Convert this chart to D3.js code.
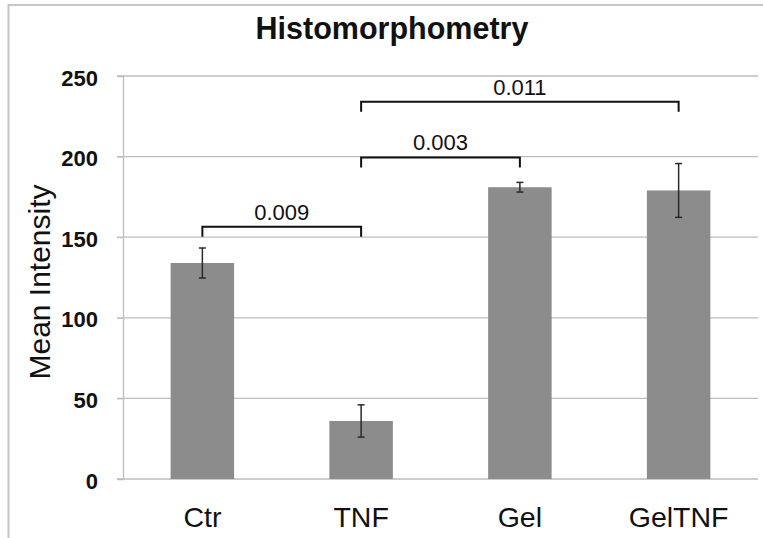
<!DOCTYPE html>
<html>
<head>
<meta charset="utf-8">
<script src="https://cdn.jsdelivr.net/npm/d3@7"></script>
<style>
  html, body { margin: 0; padding: 0; background: #fff; }
  svg { display: block; font-family: "Liberation Sans", Arial, sans-serif; }
</style>
</head>
<body>
<div id="chart"></div>
<script>
// values
const groups = ['Ctr', 'TNF', 'Gel', 'GelTNF'];
const means = [134, 36, 181, 179];
const errors = [9.3, 10, 3, 16.7];
const yTicks = [0, 50, 100, 150, 200, 250];

// significance brackets
const bracketFrom = ['Ctr', 'TNF', 'TNF'];
const bracketTo = ['TNF', 'Gel', 'GelTNF'];
const bracketLevel = [156.5, 199.5, 234];
const bracketLabels = ['0.009', '0.003', '0.011'];

const width = 763, height = 538;
const plotLeft = 123, plotRight = 758, plotTop = 76, plotBottom = 479;

const svg = d3.select('#chart').append('svg')
    .attr('width', width).attr('height', height);

// frame (only left and top edges visible)
svg.append('path')
    .attr('d', 'M8.5,538 V5 H763')
    .attr('fill', 'none')
    .attr('stroke', '#c6c6c6')
    .attr('stroke-width', 2);

const x = d3.scaleBand()
    .domain(groups)
    .range([plotLeft, plotRight])
    .paddingInner(0.6)
    .paddingOuter(0.3);

const y = d3.scaleLinear()
    .domain([0, 250])
    .range([plotBottom, plotTop]);

// gridlines
svg.append('g').selectAll('line')
    .data(yTicks)
    .enter().append('line')
    .attr('x1', plotLeft - 6).attr('x2', plotRight)
    .attr('y1', d => y(d)).attr('y2', d => y(d))
    .attr('stroke', '#bdbdbd')
    .attr('stroke-width', 1.3);

// y axis
const yAxis = svg.append('g')
    .attr('transform', 'translate(' + plotLeft + ',0)')
    .call(d3.axisLeft(y).tickValues(yTicks).tickSize(6).tickPadding(19));
yAxis.select('.domain').attr('stroke', '#bdbdbd').attr('stroke-width', 1.3);
yAxis.selectAll('.tick line').attr('stroke', '#bdbdbd');
yAxis.selectAll('.tick text')
    .attr('font-family', '"Liberation Sans", Arial, sans-serif')
    .attr('font-size', 22)
    .attr('font-weight', 'bold')
    .attr('fill', '#111')
    .attr('y', 2);

// bars
svg.append('g').selectAll('rect')
    .data(groups)
    .enter().append('rect')
    .attr('x', d => x(d))
    .attr('y', (d, i) => y(means[i]))
    .attr('width', x.bandwidth())
    .attr('height', (d, i) => y(0) - y(means[i]))
    .attr('fill', '#8c8c8c');

// error bars
const eb = svg.append('g')
    .attr('stroke', '#2a2a2a')
    .attr('stroke-width', 1.5);
groups.forEach((g, i) => {
  const cx = x(g) + x.bandwidth() / 2;
  const hi = y(means[i] + errors[i]), lo = y(means[i] - errors[i]);
  eb.append('line').attr('x1', cx).attr('x2', cx).attr('y1', hi).attr('y2', lo);
  eb.append('line').attr('x1', cx - 3.5).attr('x2', cx + 3.5).attr('y1', hi).attr('y2', hi);
  eb.append('line').attr('x1', cx - 3.5).attr('x2', cx + 3.5).attr('y1', lo).attr('y2', lo);
});

// x labels
svg.append('g').selectAll('text')
    .data(groups)
    .enter().append('text')
    .attr('x', d => x(d) + x.bandwidth() / 2)
    .attr('y', 527)
    .attr('text-anchor', 'middle')
    .attr('font-size', 28.5)
    .attr('fill', '#111')
    .text(d => d);

// brackets
const br = svg.append('g');
bracketLabels.forEach((lab, i) => {
  const x1 = x(bracketFrom[i]) + x.bandwidth() / 2;
  const x2 = x(bracketTo[i]) + x.bandwidth() / 2;
  const yy = y(bracketLevel[i]);
  br.append('path')
      .attr('d', 'M' + x1 + ',' + (yy + 10) + 'V' + yy + 'H' + x2 + 'V' + (yy + 10))
      .attr('fill', 'none')
      .attr('stroke', '#111')
      .attr('stroke-width', 2);
  br.append('text')
      .attr('x', (x1 + x2) / 2)
      .attr('y', yy - 7)
      .attr('text-anchor', 'middle')
      .attr('font-size', 22)
      .attr('fill', '#111')
      .text(lab);
});

// title
svg.append('text')
    .attr('x', 392)
    .attr('y', 39)
    .attr('text-anchor', 'middle')
    .attr('font-size', 30.5)
    .attr('font-weight', 'bold')
    .attr('fill', '#111')
    .text('Histomorphometry');

// y label
svg.append('text')
    .attr('transform', 'translate(50,282) rotate(-90)')
    .attr('text-anchor', 'middle')
    .attr('font-size', 30)
    .attr('fill', '#111')
    .text('Mean Intensity');
</script>
</body>
</html>
